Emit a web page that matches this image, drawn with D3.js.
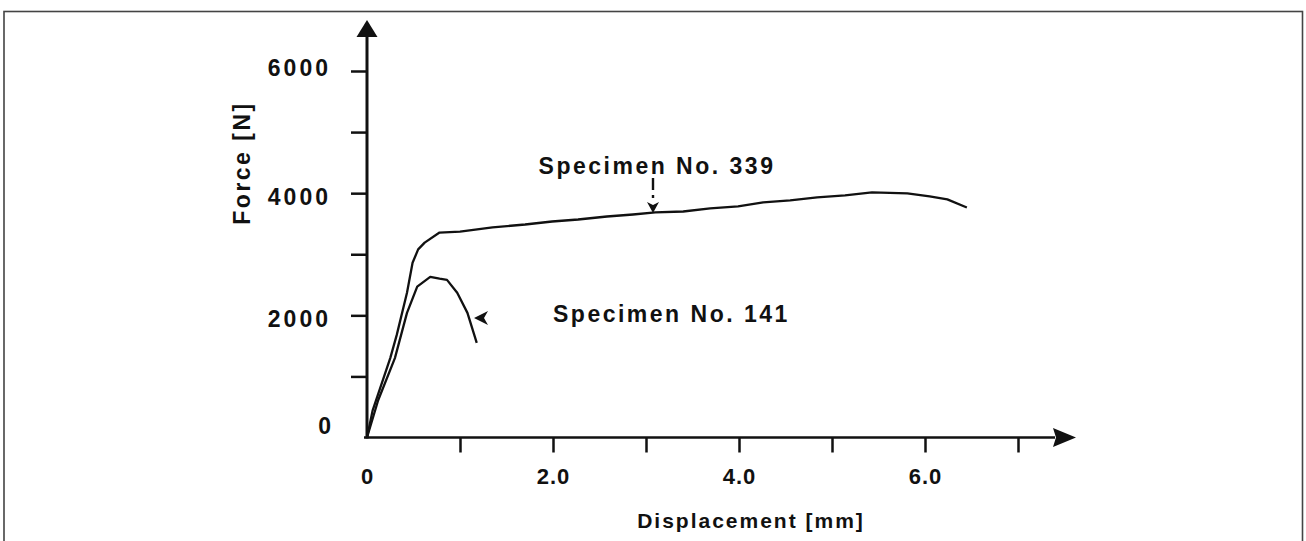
<!DOCTYPE html>
<html>
<head>
<meta charset="utf-8">
<script src="https://cdn.jsdelivr.net/npm/d3@7"></script>
<style>
  html, body { margin: 0; padding: 0; background: #fff; }
  svg { display: block; }
  text { font-family: "Liberation Sans", Arial, sans-serif; font-weight: bold; fill: #111; }
</style>
</head>
<body>
<svg id="chart" width="1306" height="541"></svg>
<script>
// ---- data ----
const xTickValues = [1, 2, 3, 4, 5, 6, 7];
const xTickLabels = ["", "2.0", "", "4.0", "", "6.0", ""];
const yTickValues = [1000, 2000, 3000, 4000, 5000, 6000];
const yTickLabels = ["", "2000", "", "4000", "", "6000"];

// Specimen No. 339: displacement [mm], force [N]
const s339_x = [0, 0.06, 0.25, 0.32, 0.43, 0.49, 0.55, 0.62, 0.78, 1.00, 1.35, 1.70, 1.99, 2.27, 2.58, 2.86, 3.10, 3.40, 3.69, 3.99, 4.26, 4.55, 4.84, 5.14, 5.43, 5.81, 6.05, 6.24, 6.45];
const s339_y = [0, 440, 1300, 1680, 2370, 2860, 3080, 3190, 3355, 3370, 3440, 3487, 3536, 3569, 3618, 3651, 3684, 3700, 3750, 3783, 3849, 3882, 3931, 3964, 4013, 3997, 3947, 3898, 3766];

// Specimen No. 141
const s141_x = [0, 0.12, 0.30, 0.43, 0.54, 0.68, 0.78, 0.86, 0.97, 1.08, 1.18];
const s141_y = [0, 610, 1300, 2040, 2470, 2630, 2600, 2580, 2370, 2040, 1550];

const seriesLabels = ["Specimen No. 339", "Specimen No. 141"];
const xTitle = "Displacement [mm]";
const yTitle = "Force [N]";

// ---- drawing ----
const svg = d3.select("#chart");

// outer frame
svg.append("rect")
  .attr("x", 4).attr("y", 11.5).attr("width", 1298.5).attr("height", 560)
  .attr("fill", "none").attr("stroke", "#444").attr("stroke-width", 1.6);

const x = d3.scaleLinear().domain([0, 7]).range([367, 1018]);
const y = d3.scaleLinear().domain([0, 6000]).range([437.5, 71]);

// x axis
const xAxis = d3.axisBottom(x).tickValues(xTickValues).tickSize(15).tickSizeOuter(0)
  .tickFormat((d, i) => xTickLabels[i]);
const gx = svg.append("g").attr("transform", `translate(0,${y(0)})`).call(xAxis);
gx.select(".domain").remove();
gx.selectAll(".tick line").attr("stroke", "#111").attr("stroke-width", 2.5);
gx.selectAll(".tick text").attr("font-size", 22).attr("letter-spacing", 1)
  .attr("y", 0).attr("dy", 0).attr("transform", "translate(0,46)");
gx.append("text").attr("x", x(0)).attr("y", 46).attr("text-anchor", "middle")
  .attr("font-size", 22).text("0");

// y axis
const yAxis = d3.axisLeft(y).tickValues(yTickValues).tickSize(16).tickSizeOuter(0)
  .tickFormat((d, i) => yTickLabels[i]);
const gy = svg.append("g").attr("transform", `translate(${x(0)},0)`).call(yAxis);
gy.select(".domain").remove();
gy.selectAll(".tick line").attr("stroke", "#111").attr("stroke-width", 2.5);
gy.selectAll(".tick text").attr("font-size", 23).attr("letter-spacing", 3)
  .attr("x", -36).attr("dy", d => d === 6000 ? 4 : 11);
gy.append("text").attr("x", -36).attr("y", y(0) - 4).attr("text-anchor", "end")
  .attr("font-size", 23).text("0");

// axis lines with arrows
const axisG = svg.append("g").attr("stroke", "#111").attr("fill", "#111");
axisG.append("line").attr("x1", x(0)).attr("y1", y(0) + 1).attr("x2", x(0)).attr("y2", 36)
  .attr("stroke-width", 3);
axisG.append("path").attr("stroke", "none")
  .attr("d", `M${x(0)},20 L${x(0) + 10.5},37 L${x(0) - 10.5},37 Z`);
axisG.append("line").attr("x1", x(0) - 3).attr("y1", y(0)).attr("x2", 1055).attr("y2", y(0))
  .attr("stroke-width", 2.6);
axisG.append("path").attr("stroke", "none")
  .attr("d", `M1076,${y(0)} L1053,${y(0) - 9.5} L1056,${y(0)} L1053,${y(0) + 9.5} Z`);

// curves
const line = d3.line().x(d => x(d[0])).y(d => y(d[1]));
const d339 = s339_x.map((v, i) => [v, s339_y[i]]);
const d141 = s141_x.map((v, i) => [v, s141_y[i]]);
[d339, d141].forEach(d => {
  svg.append("path").datum(d).attr("d", line)
    .attr("fill", "none").attr("stroke", "#111").attr("stroke-width", 2.3)
    .attr("stroke-linejoin", "round");
});

// annotation for 339
svg.append("text").attr("x", 657).attr("y", 174).attr("text-anchor", "middle")
  .attr("font-size", 23).attr("letter-spacing", 2.5).text(seriesLabels[0]);
svg.append("line").attr("x1", 653).attr("y1", 178).attr("x2", 653).attr("y2", 202)
  .attr("stroke", "#111").attr("stroke-width", 2.4).attr("stroke-dasharray", "12,5,3,4");
svg.append("path").attr("fill", "#111")
  .attr("d", "M653,213 L647,202 L653,205 L659,202 Z");

// annotation for 141
svg.append("text").attr("x", 553).attr("y", 322).attr("text-anchor", "start")
  .attr("font-size", 23).attr("letter-spacing", 2.5).text(seriesLabels[1]);
svg.append("path").attr("fill", "#111")
  .attr("d", "M474,318 L488,311 L484,318 L488,325 Z");

// axis titles
svg.append("text").attr("x", 751).attr("y", 528).attr("text-anchor", "middle")
  .attr("font-size", 21).attr("letter-spacing", 2).text(xTitle);
svg.append("text").attr("transform", "translate(250,163) rotate(-90)").attr("text-anchor", "middle")
  .attr("font-size", 23).attr("letter-spacing", 2.5).text(yTitle);
</script>
</body>
</html>
